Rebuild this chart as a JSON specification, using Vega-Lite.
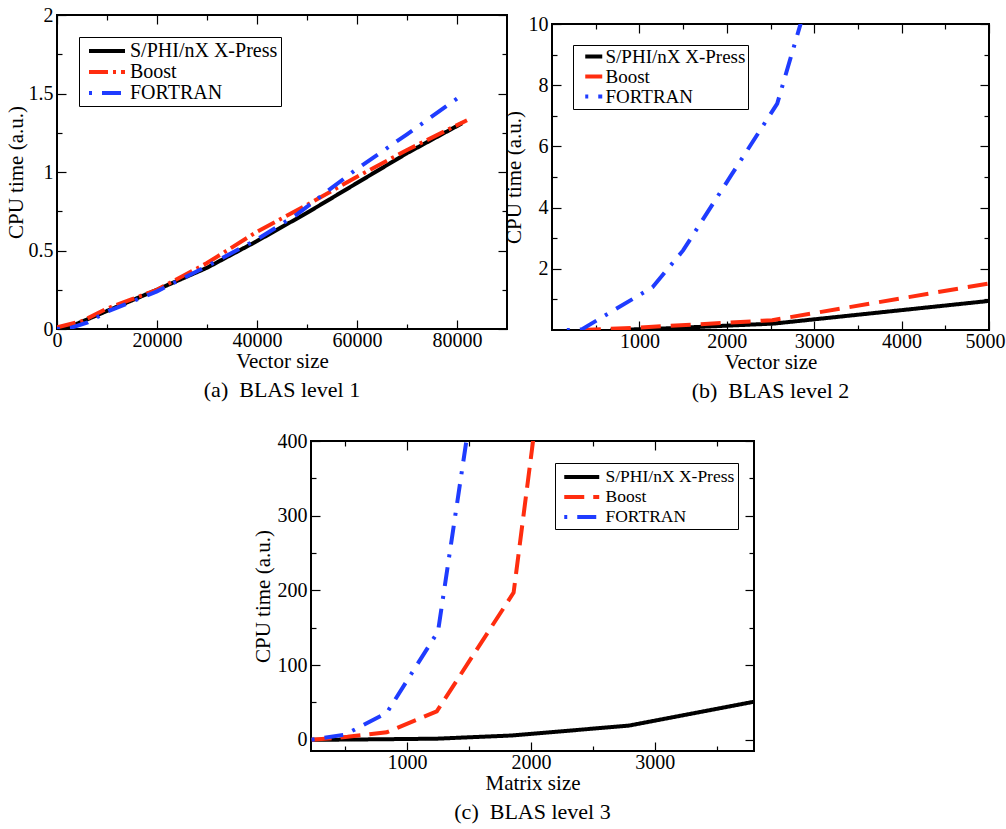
{
  "$schema": "https://vega.github.io/schema/vega-lite/v6.json",
  "padding": {"left": 4, "top": 4, "right": 0, "bottom": 0},
  "background": "white",
  "datasets": {
    "a": [
      {"lib": "S/PHI/nX X-Press", "size": 0, "time": 0},
      {"lib": "S/PHI/nX X-Press", "size": 3000, "time": 0.02},
      {"lib": "S/PHI/nX X-Press", "size": 10000, "time": 0.115},
      {"lib": "S/PHI/nX X-Press", "size": 20000, "time": 0.25},
      {"lib": "S/PHI/nX X-Press", "size": 30000, "time": 0.39},
      {"lib": "S/PHI/nX X-Press", "size": 40000, "time": 0.56},
      {"lib": "S/PHI/nX X-Press", "size": 50000, "time": 0.74},
      {"lib": "S/PHI/nX X-Press", "size": 60000, "time": 0.93},
      {"lib": "S/PHI/nX X-Press", "size": 70000, "time": 1.12},
      {"lib": "S/PHI/nX X-Press", "size": 81000, "time": 1.31},
      {"lib": "Boost", "size": 0, "time": 0.01},
      {"lib": "Boost", "size": 5000, "time": 0.05},
      {"lib": "Boost", "size": 10000, "time": 0.13},
      {"lib": "Boost", "size": 15000, "time": 0.19},
      {"lib": "Boost", "size": 20000, "time": 0.25},
      {"lib": "Boost", "size": 30000, "time": 0.42},
      {"lib": "Boost", "size": 40000, "time": 0.62},
      {"lib": "Boost", "size": 50000, "time": 0.79},
      {"lib": "Boost", "size": 60000, "time": 0.97},
      {"lib": "Boost", "size": 70000, "time": 1.14},
      {"lib": "Boost", "size": 82000, "time": 1.33},
      {"lib": "FORTRAN", "size": 0, "time": 0},
      {"lib": "FORTRAN", "size": 3000, "time": 0.01},
      {"lib": "FORTRAN", "size": 6000, "time": 0.04},
      {"lib": "FORTRAN", "size": 10000, "time": 0.11},
      {"lib": "FORTRAN", "size": 20000, "time": 0.24},
      {"lib": "FORTRAN", "size": 30000, "time": 0.4},
      {"lib": "FORTRAN", "size": 40000, "time": 0.57},
      {"lib": "FORTRAN", "size": 48000, "time": 0.73},
      {"lib": "FORTRAN", "size": 55000, "time": 0.9},
      {"lib": "FORTRAN", "size": 60000, "time": 1.02},
      {"lib": "FORTRAN", "size": 70000, "time": 1.24},
      {"lib": "FORTRAN", "size": 81000, "time": 1.49}
    ],
    "b": [
      {"lib": "S/PHI/nX X-Press", "size": 670, "time": 0},
      {"lib": "S/PHI/nX X-Press", "size": 1200, "time": 0.04},
      {"lib": "S/PHI/nX X-Press", "size": 2540, "time": 0.21},
      {"lib": "S/PHI/nX X-Press", "size": 5000, "time": 0.95},
      {"lib": "Boost", "size": 330, "time": 0},
      {"lib": "Boost", "size": 1000, "time": 0.08},
      {"lib": "Boost", "size": 2520, "time": 0.32},
      {"lib": "Boost", "size": 5000, "time": 1.52},
      {"lib": "FORTRAN", "size": 170, "time": 0},
      {"lib": "FORTRAN", "size": 340, "time": 0.02},
      {"lib": "FORTRAN", "size": 1150, "time": 1.4},
      {"lib": "FORTRAN", "size": 1500, "time": 2.6},
      {"lib": "FORTRAN", "size": 2060, "time": 5.1},
      {"lib": "FORTRAN", "size": 2577, "time": 7.4},
      {"lib": "FORTRAN", "size": 3500, "time": 16.4}
    ],
    "c": [
      {"lib": "S/PHI/nX X-Press", "size": 230, "time": 0},
      {"lib": "S/PHI/nX X-Press", "size": 520, "time": 0.3},
      {"lib": "S/PHI/nX X-Press", "size": 836, "time": 0.8},
      {"lib": "S/PHI/nX X-Press", "size": 1240, "time": 1.5},
      {"lib": "S/PHI/nX X-Press", "size": 1850, "time": 5.8},
      {"lib": "S/PHI/nX X-Press", "size": 2790, "time": 19},
      {"lib": "S/PHI/nX X-Press", "size": 3800, "time": 51},
      {"lib": "Boost", "size": 230, "time": 0},
      {"lib": "Boost", "size": 520, "time": 4},
      {"lib": "Boost", "size": 836, "time": 10},
      {"lib": "Boost", "size": 1240, "time": 38},
      {"lib": "Boost", "size": 1860, "time": 197},
      {"lib": "Boost", "size": 2790, "time": 1400},
      {"lib": "FORTRAN", "size": 230, "time": 0},
      {"lib": "FORTRAN", "size": 500, "time": 7},
      {"lib": "FORTRAN", "size": 836, "time": 36},
      {"lib": "FORTRAN", "size": 1250, "time": 145},
      {"lib": "FORTRAN", "size": 1860, "time": 825}
    ]
  },
  "vconcat": [
    {
      "hconcat": [
        {
          "width": 450,
          "height": 314,
          "title": {"text": "(a)\u00a0\u00a0BLAS level 1", "orient": "bottom", "anchor": "middle", "offset": 9},
          "data": {"name": "a"},
          "layer": [
            {
              "mark": {"type": "line", "strokeWidth": 4, "clip": true, "strokeCap": "butt"},
              "encoding": {
                "x": {"field": "size", "type": "quantitative", "scale": {"domain": [0, 90000], "nice": false, "zero": false},
                  "axis": {"orient": "bottom", "title": "Vector size", "values": [0, 20000, 40000, 60000, 80000], "labelExpr": "'' + datum.value", "tickSize": -9, "labelPadding": 10, "titlePadding": 0}},
                "y": {"field": "time", "type": "quantitative", "scale": {"domain": [0, 2], "nice": false, "zero": false},
                  "axis": {"orient": "left", "title": "CPU time (a.u.)", "values": [0, 0.5, 1, 1.5, 2], "labelExpr": "'' + datum.value", "tickSize": -9, "labelPadding": 13, "titlePadding": 2}},
                "color": {"field": "lib", "type": "nominal", "scale": {"domain": ["S/PHI/nX X-Press", "Boost", "FORTRAN"], "range": ["#000000", "#ff2d0f", "#1f3cff"]},
                  "legend": {"orient": "none", "legendX": 22, "legendY": 22, "symbolType": "M-1,0H3", "symbolSize": 324, "labelFontSize": 20, "padding": 3, "symbolOffset": 5, "labelOffset": 21, "rowPadding": 0}},
                "strokeDash": {"field": "lib", "type": "nominal", "scale": {"domain": ["S/PHI/nX X-Press", "Boost", "FORTRAN"], "range": [[1, 0], [19, 5, 3, 5], [3, 10, 19, 10]]},
                  "legend": {"orient": "none", "legendX": 22, "legendY": 22, "symbolType": "M-1,0H3", "symbolSize": 324, "labelFontSize": 20, "padding": 3, "symbolOffset": 5, "labelOffset": 21, "rowPadding": 0}}
              }
            },
            {
              "mark": {"type": "point", "opacity": 0, "clip": true},
              "encoding": {
                "x": {"field": "size", "type": "quantitative", "scale": {"domain": [0, 90000], "nice": false, "zero": false},
                  "axis": {"orient": "top", "title": null, "labels": false, "values": [0, 20000, 40000, 60000, 80000], "tickSize": -9}},
                "y": {"field": "time", "type": "quantitative", "scale": {"domain": [0, 2], "nice": false, "zero": false},
                  "axis": {"orient": "right", "title": null, "labels": false, "values": [0, 0.5, 1, 1.5, 2], "tickSize": -9}}
              }
            },
            {
              "mark": {"type": "point", "opacity": 0, "clip": true},
              "encoding": {
                "x": {"field": "size", "type": "quantitative", "scale": {"domain": [0, 90000], "nice": false, "zero": false},
                  "axis": {"orient": "bottom", "title": null, "labels": false, "values": [10000, 30000, 50000, 70000], "tickSize": -5}},
                "y": {"field": "time", "type": "quantitative", "scale": {"domain": [0, 2], "nice": false, "zero": false},
                  "axis": {"orient": "left", "title": null, "labels": false, "values": [0.25, 0.75, 1.25, 1.75], "tickSize": -5}}
              }
            },
            {
              "mark": {"type": "point", "opacity": 0, "clip": true},
              "encoding": {
                "x": {"field": "size", "type": "quantitative", "scale": {"domain": [0, 90000], "nice": false, "zero": false},
                  "axis": {"orient": "top", "title": null, "labels": false, "values": [10000, 30000, 50000, 70000], "tickSize": -5}},
                "y": {"field": "time", "type": "quantitative", "scale": {"domain": [0, 2], "nice": false, "zero": false},
                  "axis": {"orient": "right", "title": null, "labels": false, "values": [0.25, 0.75, 1.25, 1.75], "tickSize": -5}}
              }
            }
          ],
          "resolve": {"axis": {"x": "independent", "y": "independent"}}
        },
        {
          "vconcat": [
            {"width": 10, "height": 1, "view": {"stroke": null}, "data": {"values": [{}]}, "mark": {"type": "point", "opacity": 0}, "encoding": {}},
            {
              "width": 437,
              "height": 306,
              "title": {"text": "(b)\u00a0\u00a0BLAS level 2", "orient": "bottom", "anchor": "middle", "offset": 9},
              "data": {"name": "b"},
              "layer": [
                {
                  "mark": {"type": "line", "strokeWidth": 4, "clip": true, "strokeCap": "butt"},
                  "encoding": {
                    "x": {"field": "size", "type": "quantitative", "scale": {"domain": [0, 5000], "nice": false, "zero": false},
                      "axis": {"orient": "bottom", "title": "Vector size", "values": [1000, 2000, 3000, 4000, 5000], "labelExpr": "'' + datum.value", "tickSize": -9, "labelPadding": 10, "titlePadding": 0,
                        "labelOffset": {"condition": {"test": "datum.value == 5000", "value": -4}, "value": 0}}},
                    "y": {"field": "time", "type": "quantitative", "scale": {"domain": [0, 10], "nice": false, "zero": false},
                      "axis": {"orient": "left", "title": "CPU time (a.u.)", "values": [2, 4, 6, 8, 10], "labelExpr": "'' + datum.value", "tickSize": -9, "labelPadding": 13, "titlePadding": 4}},
                    "color": {"field": "lib", "type": "nominal", "scale": {"domain": ["S/PHI/nX X-Press", "Boost", "FORTRAN"], "range": ["#000000", "#ff2d0f", "#1f3cff"]},
                      "legend": {"orient": "none", "legendX": 21, "legendY": 21, "symbolType": "M-1,0H3", "symbolSize": 72.25, "labelFontSize": 19, "padding": 2, "symbolOffset": 5, "labelOffset": 6.5, "rowPadding": 0}},
                    "strokeDash": {"field": "lib", "type": "nominal", "scale": {"domain": ["S/PHI/nX X-Press", "Boost", "FORTRAN"], "range": [[1, 0], [20, 10], [3, 10, 19, 10]]},
                      "legend": {"orient": "none", "legendX": 21, "legendY": 21, "symbolType": "M-1,0H3", "symbolSize": 72.25, "labelFontSize": 19, "padding": 2, "symbolOffset": 5, "labelOffset": 6.5, "rowPadding": 0}}
                  }
                },
                {
                  "mark": {"type": "point", "opacity": 0, "clip": true},
                  "encoding": {
                    "x": {"field": "size", "type": "quantitative", "scale": {"domain": [0, 5000], "nice": false, "zero": false},
                      "axis": {"orient": "top", "title": null, "labels": false, "values": [1000, 2000, 3000, 4000, 5000], "tickSize": -9}},
                    "y": {"field": "time", "type": "quantitative", "scale": {"domain": [0, 10], "nice": false, "zero": false},
                      "axis": {"orient": "right", "title": null, "labels": false, "values": [2, 4, 6, 8, 10], "tickSize": -9}}
                  }
                },
                {
                  "mark": {"type": "point", "opacity": 0, "clip": true},
                  "encoding": {
                    "x": {"field": "size", "type": "quantitative", "scale": {"domain": [0, 5000], "nice": false, "zero": false},
                      "axis": {"orient": "bottom", "title": null, "labels": false, "values": [500, 1500, 2500, 3500, 4500], "tickSize": -5}},
                    "y": {"field": "time", "type": "quantitative", "scale": {"domain": [0, 10], "nice": false, "zero": false},
                      "axis": {"orient": "left", "title": null, "labels": false, "values": [1, 3, 5, 7, 9], "tickSize": -5}}
                  }
                },
                {
                  "mark": {"type": "point", "opacity": 0, "clip": true},
                  "encoding": {
                    "x": {"field": "size", "type": "quantitative", "scale": {"domain": [0, 5000], "nice": false, "zero": false},
                      "axis": {"orient": "top", "title": null, "labels": false, "values": [500, 1500, 2500, 3500, 4500], "tickSize": -5}},
                    "y": {"field": "time", "type": "quantitative", "scale": {"domain": [0, 10], "nice": false, "zero": false},
                      "axis": {"orient": "right", "title": null, "labels": false, "values": [1, 3, 5, 7, 9], "tickSize": -5}}
                  }
                }
              ],
              "resolve": {"axis": {"x": "independent", "y": "independent"}}
            }
          ],
          "bounds": "flush",
          "spacing": 8,
          "resolve": {"scale": {"color": "independent", "strokeDash": "independent"}, "legend": {"color": "independent", "strokeDash": "independent"}}
        }
      ],
      "bounds": "flush",
      "spacing": 45,
      "resolve": {"scale": {"color": "independent", "strokeDash": "independent"}, "legend": {"color": "independent", "strokeDash": "independent"}}
    },
    {
      "hconcat": [
        {"width": 254, "height": 1, "view": {"stroke": null}, "data": {"values": [{}]}, "mark": {"type": "point", "opacity": 0}, "encoding": {}},
        {
          "width": 443,
          "height": 310,
          "title": {"text": "(c)\u00a0\u00a0BLAS level 3", "orient": "bottom", "anchor": "middle", "offset": 9},
          "data": {"name": "c"},
          "layer": [
            {
              "mark": {"type": "line", "strokeWidth": 4, "clip": true, "strokeCap": "butt"},
              "encoding": {
                "x": {"field": "size", "type": "quantitative", "scale": {"domain": [225, 3800], "nice": false, "zero": false},
                  "axis": {"orient": "bottom", "title": "Matrix size", "values": [1000, 2000, 3000], "labelExpr": "'' + datum.value", "tickSize": -9, "labelPadding": 10, "titlePadding": 0}},
                "y": {"field": "time", "type": "quantitative", "scale": {"domain": [-15, 400], "nice": false, "zero": false},
                  "axis": {"orient": "left", "title": "CPU time (a.u.)", "values": [0, 100, 200, 300, 400], "labelExpr": "'' + datum.value", "tickSize": -9, "labelPadding": 13, "titlePadding": 4}},
                "color": {"field": "lib", "type": "nominal", "scale": {"domain": ["S/PHI/nX X-Press", "Boost", "FORTRAN"], "range": ["#000000", "#ff2d0f", "#1f3cff"]},
                  "legend": {"orient": "none", "legendX": 244, "legendY": 22, "symbolType": "M-1,0H3", "symbolSize": 306.25, "labelFontSize": 17.5, "padding": 3, "symbolOffset": 4, "labelOffset": 21.5, "rowPadding": 0}},
                "strokeDash": {"field": "lib", "type": "nominal", "scale": {"domain": ["S/PHI/nX X-Press", "Boost", "FORTRAN"], "range": [[1, 0], [20, 9], [3, 10, 19, 10]]},
                  "legend": {"orient": "none", "legendX": 244, "legendY": 22, "symbolType": "M-1,0H3", "symbolSize": 306.25, "labelFontSize": 17.5, "padding": 3, "symbolOffset": 4, "labelOffset": 21.5, "rowPadding": 0}}
              }
            },
            {
              "mark": {"type": "point", "opacity": 0, "clip": true},
              "encoding": {
                "x": {"field": "size", "type": "quantitative", "scale": {"domain": [225, 3800], "nice": false, "zero": false},
                  "axis": {"orient": "top", "title": null, "labels": false, "values": [1000, 2000, 3000], "tickSize": -9}},
                "y": {"field": "time", "type": "quantitative", "scale": {"domain": [-15, 400], "nice": false, "zero": false},
                  "axis": {"orient": "right", "title": null, "labels": false, "values": [0, 100, 200, 300, 400], "tickSize": -9}}
              }
            },
            {
              "mark": {"type": "point", "opacity": 0, "clip": true},
              "encoding": {
                "x": {"field": "size", "type": "quantitative", "scale": {"domain": [225, 3800], "nice": false, "zero": false},
                  "axis": {"orient": "bottom", "title": null, "labels": false, "values": [500, 1500, 2500, 3500], "tickSize": -5}},
                "y": {"field": "time", "type": "quantitative", "scale": {"domain": [-15, 400], "nice": false, "zero": false},
                  "axis": {"orient": "left", "title": null, "labels": false, "values": [50, 150, 250, 350], "tickSize": -5}}
              }
            },
            {
              "mark": {"type": "point", "opacity": 0, "clip": true},
              "encoding": {
                "x": {"field": "size", "type": "quantitative", "scale": {"domain": [225, 3800], "nice": false, "zero": false},
                  "axis": {"orient": "top", "title": null, "labels": false, "values": [500, 1500, 2500, 3500], "tickSize": -5}},
                "y": {"field": "time", "type": "quantitative", "scale": {"domain": [-15, 400], "nice": false, "zero": false},
                  "axis": {"orient": "right", "title": null, "labels": false, "values": [50, 150, 250, 350], "tickSize": -5}}
              }
            }
          ],
          "resolve": {"axis": {"x": "independent", "y": "independent"}}
        }
      ],
      "bounds": "flush",
      "spacing": 0,
      "resolve": {"scale": {"color": "independent", "strokeDash": "independent"}, "legend": {"color": "independent", "strokeDash": "independent"}}
    }
  ],
  "spacing": 27,
  "resolve": {"scale": {"color": "independent", "strokeDash": "independent"}, "legend": {"color": "independent", "strokeDash": "independent"}},
  "config": {
    "font": "Liberation Serif",
    "view": {"stroke": "#000000", "strokeWidth": 2},
    "axis": {
      "labelFont": "Liberation Serif", "labelFontSize": 20, "labelColor": "#000000",
      "titleFont": "Liberation Serif", "titleFontSize": 21, "titleFontWeight": "normal", "titleColor": "#000000",
      "tickColor": "#000000", "tickWidth": 1.2, "grid": false, "domain": false,
      "labelFlush": false, "labelOverlap": false
    },
    "legend": {
      "title": null, "symbolStrokeWidth": 4, "labelFont": "Liberation Serif", "labelColor": "#000000",
      "strokeColor": "#000000", "fillColor": "#ffffff", "labelLimit": 400
    },
    "title": {"font": "Liberation Serif", "fontSize": 22, "fontWeight": "normal", "color": "#000000"}
  }
}
